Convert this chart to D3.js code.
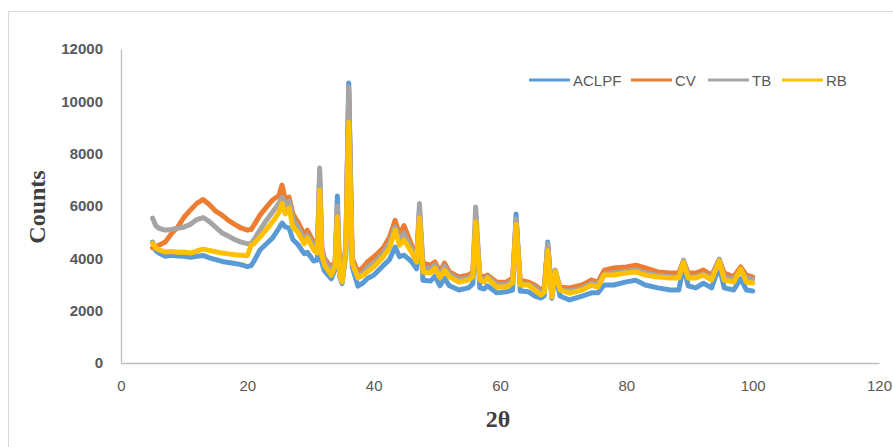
<!DOCTYPE html>
<html>
<head>
<meta charset="utf-8">
<script src="https://cdn.jsdelivr.net/npm/d3@7"></script>
<style>
  body { margin: 0; background: #fff; }
  svg { display: block; }
</style>
</head>
<body>
<svg id="visu" width="893" height="447"></svg>
<script>
// 2theta positions (shared by all series)
var twoTheta = [5, 5.5, 6, 7, 8, 9, 10, 11, 12, 13, 14, 15, 16, 17, 18, 19, 20, 20.6, 21, 22,
  23, 24, 25, 25.5, 26, 26.6, 27.2, 28, 29, 29.5, 30.5, 31.1, 31.45, 31.8, 32.2, 33.3, 33.9, 34.25, 34.6, 35,
  35.6, 36.05, 36.6, 37.5, 38.3, 39, 40, 41.5, 42.5, 43.4, 44.1, 44.8, 46, 46.8, 47.25, 47.8, 49, 49.7, 50.5, 51.2,
  52, 53.5, 55, 55.7, 56.15, 56.8, 57.5, 58, 59.5, 61, 62, 62.55, 63.2, 64.5, 65.5, 66.5, 67, 67.55, 68.2, 68.75,
  69.5, 71, 73, 74.5, 75.5, 76.5, 78, 80, 81.5, 83, 85, 87, 88.3, 89.05, 89.8, 91, 92.2, 93.5, 94.7, 95.5,
  97, 98.1, 99, 100];

var aclpf = [4620, 4300, 4200, 4080, 4120, 4090, 4080, 4040, 4080, 4110, 4020, 3950, 3880, 3840, 3800, 3760, 3680, 3720, 3870, 4320,
  4550, 4780, 5150, 5350, 5200, 5160, 4720, 4530, 4180, 4230, 3900, 3930, 7200, 3830, 3520, 3220, 3600, 6380, 3330, 3030,
  4150, 10700, 3680, 2940, 3060, 3230, 3350, 3720, 3950, 4430, 4060, 4120, 3880, 3600, 5850, 3160, 3130, 3320, 2950, 3240,
  2950, 2790, 2870, 3020, 5450, 2870, 2830, 2950, 2680, 2720, 2790, 5690, 2750, 2720, 2560, 2480, 2570, 4620, 2470, 3400,
  2560, 2410, 2560, 2680, 2680, 2980, 2980, 3100, 3160, 2980, 2870, 2790, 2790, 3700, 2950, 2870, 3050, 2870, 3700, 2870,
  2790, 3220, 2790, 2750];

var cv = [4400, 4450, 4500, 4620, 4950, 5200, 5580, 5850, 6100, 6250, 6050, 5800, 5650, 5450, 5300, 5160, 5080, 5100, 5250, 5650,
  5950, 6230, 6400, 6800, 6250, 6340, 5700, 5390, 4900, 5080, 4620, 4500, 6900, 4400, 4010, 3630, 3900, 5700, 3600, 3250,
  4510, 10400, 4010, 3480, 3650, 3860, 4050, 4390, 4800, 5450, 4900, 5250, 4510, 4050, 5700, 3820, 3740, 3860, 3480, 3820,
  3480, 3290, 3360, 3480, 5500, 3360, 3290, 3360, 3090, 3090, 3250, 5400, 3170, 3090, 2980, 2790, 2900, 4450, 2700, 3500,
  2900, 2870, 2980, 3170, 3090, 3550, 3630, 3670, 3740, 3630, 3480, 3440, 3440, 3900, 3440, 3440, 3550, 3360, 3950, 3440,
  3290, 3670, 3360, 3290];

var tb = [5540, 5250, 5150, 5080, 5100, 5150, 5200, 5300, 5480, 5560, 5400, 5180, 4970, 4850, 4720, 4620, 4560, 4560, 4700, 5080,
  5450, 5770, 6100, 6340, 6000, 6190, 5500, 5200, 4700, 4890, 4510, 4400, 7450, 4300, 3900, 3550, 3800, 6000, 3500, 3200,
  4400, 10550, 3900, 3300, 3450, 3650, 3800, 4200, 4600, 5200, 4650, 4970, 4350, 3950, 6100, 3650, 3600, 3750, 3350, 3700,
  3400, 3200, 3250, 3400, 5960, 3250, 3200, 3300, 3000, 3000, 3150, 5500, 3050, 3000, 2900, 2700, 2800, 4550, 2600, 3550,
  2800, 2750, 2850, 3050, 3000, 3400, 3450, 3500, 3550, 3450, 3350, 3300, 3300, 3930, 3300, 3300, 3400, 3250, 3970, 3300,
  3200, 3550, 3250, 3200];

var rb = [4580, 4400, 4320, 4240, 4260, 4230, 4240, 4200, 4280, 4350, 4300, 4250, 4200, 4170, 4140, 4120, 4100, 4500, 4550, 4810,
  5100, 5390, 5750, 6100, 5700, 5920, 5200, 5000, 4550, 4780, 4320, 4200, 6600, 4100, 3740, 3360, 3700, 5580, 3400, 3090,
  4320, 9200, 3820, 3250, 3350, 3480, 3670, 4050, 4400, 5080, 4500, 4700, 4240, 3860, 5550, 3480, 3440, 3630, 3250, 3550,
  3290, 3090, 3170, 3300, 5400, 3170, 3100, 3250, 2900, 2900, 3060, 5300, 2980, 2980, 2790, 2600, 2700, 4300, 2520, 3500,
  2790, 2670, 2790, 2980, 2900, 3360, 3360, 3440, 3480, 3360, 3290, 3250, 3250, 3850, 3250, 3250, 3360, 3170, 3900, 3170,
  3090, 3600, 3090, 3060];

var seriesNames = ["ACLPF", "CV", "TB", "RB"];
var seriesColors = ["#5B9BD5", "#ED7D31", "#A5A5A5", "#FFC000"];
var xTicks = [0, 20, 40, 60, 80, 100, 120];
var yTicks = [0, 2000, 4000, 6000, 8000, 10000, 12000];

var vis = d3.select("#visu"),
    WIDTH = 893,
    HEIGHT = 447,
    MARGINS = { top: 49, right: 14, bottom: 84, left: 121 };

var xScale = d3.scaleLinear().domain([0, 120]).range([MARGINS.left, WIDTH - MARGINS.right]);
var yScale = d3.scaleLinear().domain([0, 12000]).range([HEIGHT - MARGINS.bottom, MARGINS.top]);

// chart frame
vis.append("rect")
  .attr("x", 8.5).attr("y", 11.5)
  .attr("width", 900).attr("height", 450)
  .attr("fill", "#fff").attr("stroke", "#D9D9D9");

var xAxis = d3.axisBottom(xScale).tickValues(xTicks).tickSize(0).tickSizeOuter(0).tickPadding(17);
var yAxis = d3.axisLeft(yScale).tickValues(yTicks).tickFormat(d3.format("d"))
  .tickSize(0).tickSizeOuter(0).tickPadding(18);

var gx = vis.append("g")
  .attr("transform", "translate(0," + yScale(0) + ")")
  .call(xAxis);
var gy = vis.append("g")
  .attr("transform", "translate(" + xScale(0) + ",0)")
  .call(yAxis);

gx.select(".domain").attr("stroke", "#BFBFBF").attr("stroke-width", 1.3);
gy.select(".domain").attr("stroke", "#BFBFBF").attr("stroke-width", 1.3);
gx.selectAll("text")
  .attr("fill", "#595959")
  .style("font-family", "'Liberation Sans Narrow', 'Arial Narrow', sans-serif")
  .style("font-size", "15px");
gy.selectAll("text")
  .attr("fill", "#595959")
  .style("font-family", "'Liberation Sans', Arial, sans-serif")
  .style("font-weight", "bold")
  .style("font-size", "15px");

// series lines, drawn in series order like the original
var allSeries = [aclpf, cv, tb, rb];
var lineGen = d3.line()
  .x(function(d, i) { return xScale(twoTheta[i]); })
  .y(function(d) { return yScale(d); });

allSeries.forEach(function(s, k) {
  vis.append("path")
    .attr("d", lineGen(s))
    .attr("fill", "none")
    .attr("stroke", seriesColors[k])
    .attr("stroke-width", 5)
    .attr("stroke-linejoin", "round")
    .attr("stroke-linecap", "round");
});

// axis titles
vis.append("text")
  .attr("transform", "translate(45,207) rotate(-90)")
  .attr("text-anchor", "middle")
  .attr("fill", "#404040")
  .style("font-family", "'Liberation Serif', 'Times New Roman', serif")
  .style("font-weight", "bold")
  .style("font-size", "24px")
  .text("Counts");

vis.append("text")
  .attr("x", 498).attr("y", 427)
  .attr("text-anchor", "middle")
  .attr("fill", "#404040")
  .style("font-family", "'Liberation Serif', 'Times New Roman', serif")
  .style("font-weight", "bold")
  .style("font-size", "24px")
  .text("2θ");

// legend
var legendX = [529, 631, 708, 782];
var legend = vis.append("g");
seriesNames.forEach(function(name, k) {
  legend.append("line")
    .attr("x1", legendX[k]).attr("x2", legendX[k] + 41)
    .attr("y1", 80).attr("y2", 80)
    .attr("stroke", seriesColors[k])
    .attr("stroke-width", 3);
  legend.append("text")
    .attr("x", legendX[k] + 44).attr("y", 85.5)
    .attr("fill", "#595959")
    .style("font-family", "'Liberation Sans', Arial, sans-serif")
    .style("font-size", "15px")
    .text(name);
});
</script>
</body>
</html>
